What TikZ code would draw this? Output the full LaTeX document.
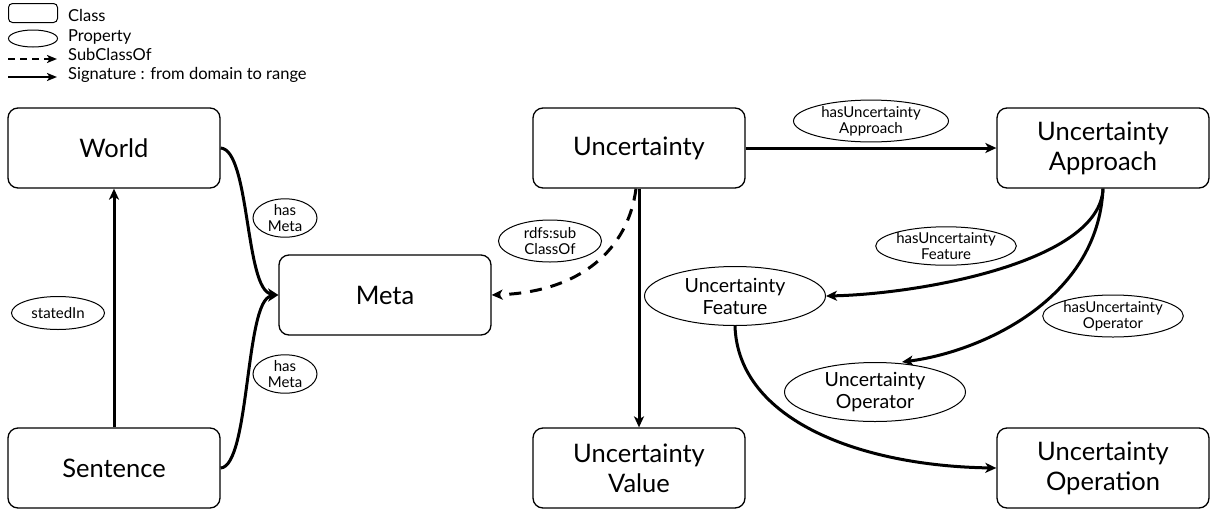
\documentclass[tikz,border=0pt]{standalone}
\usepackage{fontspec}
\setmainfont{Lato}
\usetikzlibrary{arrows.meta,shapes.geometric}
\begin{document}
\begin{tikzpicture}[x=1pt,y=-1pt,
  cls/.style={draw,line width=1.3pt,rounded corners=10pt,minimum width=212pt,minimum height=80pt,inner sep=0pt,align=center,font=\fontsize{25.5}{30}\selectfont},
  prop/.style n args={2}{draw,line width=1pt,ellipse,minimum width=#1,minimum height=#2,inner sep=0pt,align=center,font=\fontsize{15}{16}\selectfont},
  bigprop/.style={draw,line width=1pt,ellipse,minimum width=181pt,minimum height=59pt,inner sep=0pt,align=center,font=\fontsize{19.5}{22}\selectfont},
  sig/.style={line width=3pt,-{Stealth[length=11pt,width=10pt,inset=3pt]}},
  sub/.style={sig,dash pattern=on 12pt off 9pt},
  leg/.style={anchor=base west,inner sep=0pt,font=\fontsize{16.5}{18}\selectfont}
]
\useasboundingbox (0,0) rectangle (1211,512);
% legend
\node[draw,line width=1pt,rounded corners=4pt,minimum width=49pt,minimum height=19pt,inner sep=0pt] (lc) at (33,13) {};
\node[draw,line width=1pt,ellipse,minimum width=49pt,minimum height=17pt,inner sep=0pt] (lp) at (33,38.5) {};
\coordinate (ls1) at (8,59); \coordinate (ls2) at (57,59);
\coordinate (lg1) at (8,77); \coordinate (lg2) at (57,77);
\draw[line width=2.3pt,dash pattern=on 7pt off 5pt,-{Stealth[length=10pt,width=8pt,inset=2.5pt]}] (ls1) -- (ls2);
\draw[line width=2.3pt,-{Stealth[length=10pt,width=8pt,inset=2.5pt]}] (lg1) -- (lg2);
\node[leg] (t1) at (68,21) {Class};
\node[leg] (t2) at (68,41) {Property};
\node[leg] (t3) at (68,60) {SubClassOf};
\node[leg] (t4) at (68,79) {Signature : from domain to range};
% classes
\node[cls] (world) at (114,148) {World};
\node[cls] (sent) at (114,468) {Sentence};
\node[cls] (meta) at (385,295) {Meta};
\node[cls] (unc) at (639,148) {Uncertainty};
\node[cls] (appr) at (1103,148) {Uncertainty\\Approach};
\node[cls] (val) at (639,468) {Uncertainty\\Value};
\node[cls] (oper) at (1103,468) {Uncertainty\\Operation};
% property ellipses
\node[bigprop] (feat) at (735,296) {Uncertainty\\Feature};
\node[bigprop] (op) at (875,392) {Uncertainty\\Operator};
\node[prop={155pt}{34pt}] (lapp) at (871,121) {hasUncertainty\\Approach};
\node[prop={128pt}{38pt}] (lfeat) at (946,246) {hasUncertainty\\Feature};
\node[prop={133pt}{42pt}] (lop) at (1113,316) {hasUncertainty\\Operator};
\node[prop={64pt}{38pt}] (hm1) at (285,218) {has\\Meta};
\node[prop={64pt}{38pt}] (hm2) at (285,374) {has\\Meta};
\node[prop={93pt}{33pt}] (st) at (58,313) {statedIn};
\node[prop={103pt}{42pt}] (sc) at (550,241) {rdfs:sub\\ClassOf};
% connectors
\draw[sig] (sent.north) -- (world.south);
\draw[sig] (world.east) .. controls (250,150) and (245,290) .. (meta.west);
\draw[sig] (sent.east) .. controls (250,466) and (245,300) .. (meta.west);
\draw[sig] (unc.east) -- (appr.west);
\draw[sig] (unc.south) -- (val.north);
\draw[sub] (unc.south -| 636,0) .. controls (628,250) and (580,292) .. (meta.east);
\draw[sig] (appr.south) .. controls (1100,262) and (920,294) .. (feat.east);
\draw[sig] (appr.south) .. controls (1098,300) and (980,352) .. (op.north -| 902,0);
\draw[sig] (feat.south) .. controls (738,420) and (860,466) .. (oper.west);
\end{tikzpicture}
\end{document}
